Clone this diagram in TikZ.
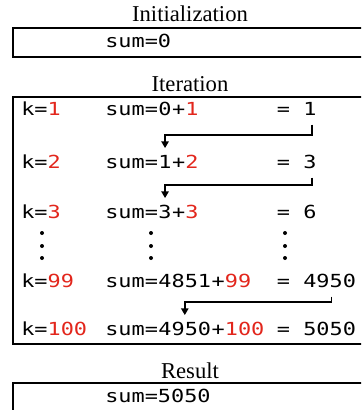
\documentclass[tikz,border=0pt]{standalone}
\usepackage{fontspec}
\setmainfont{Liberation Serif}
\setmonofont{DejaVu Sans Mono}[FakeStretch=1.215]
\usetikzlibrary{arrows.meta}
\definecolor{termred}{RGB}{226,38,28}
\newcommand{\hl}[1]{\textcolor{termred}{#1}}

\begin{document}
\begin{tikzpicture}[x=0.75pt,y=-0.75pt,
	frame/.style={draw, line width=1.5pt},
	title/.style={font=\fontsize{17}{20}\selectfont, anchor=base, inner sep=0pt},
	code/.style={font=\ttfamily\fontsize{13.5}{16}\selectfont, anchor=base west, inner xsep=0pt, inner ysep=5pt, text height=9.75pt, text depth=2pt},
	flow/.style={line width=1.1pt, -{Triangle[width=5.5pt,length=5pt]}}]
	\useasboundingbox (0,0) rectangle (361,410);
	\clip (0,0) rectangle (361,410);
	
	% frames
	\draw[frame] (13,28) rectangle (367,57);
	\draw[frame] (13,97) rectangle (367,344);
	\draw[frame] (13,383) rectangle (367,414);
	
	\node[title] (tinit) at (190,22) {Initialization};
	\node[title] (titer) at (190,91) {Iteration};
	\node[title] (tres) at (190,378) {Result};
	
	\node[code] (init) at (105,48) {sum=0};
	
	% k=1
	\node[code] (k1) at (21,115) {k=\hl{1}};
	\node[code] (s1) at (105,115) {sum=};
	\node[code] (a1) at (s1.base east) {0};
	\node[code] (b1) at (a1.base east) {+\hl{1}};
	\node[code] (e1) at (276.6,115) {=};
	\node[code] (r1) at (303,115) {1};
	% k=2
	\node[code] (k2) at (21,168) {k=\hl{2}};
	\node[code] (s2) at (105,168) {sum=};
	\node[code] (a2) at (s2.base east) {1};
	\node[code] (b2) at (a2.base east) {+\hl{2}};
	\node[code] (e2) at (276.6,168) {=};
	\node[code] (r2) at (303,168) {3};
	% k=3
	\node[code] (k3) at (21,218) {k=\hl{3}};
	\node[code] (s3) at (105,218) {sum=};
	\node[code] (a3) at (s3.base east) {3};
	\node[code] (b3) at (a3.base east) {+\hl{3}};
	\node[code] (e3) at (276.6,218) {=};
	\node[code] (r3) at (303,218) {6};
	% k=99
	\node[code] (k99) at (21,287) {k=\hl{99}};
	\node[code] (s99) at (105,287) {sum=};
	\node[code] (a99) at (s99.base east) {4851};
	\node[code] (b99) at (a99.base east) {+\hl{99}};
	\node[code] (e99) at (276.6,287) {=};
	\node[code] (r99) at (303,287) {4950};
	% k=100
	\node[code] (k100) at (21,335) {k=\hl{100}};
	\node[code] (s100) at (105,335) {sum=};
	\node[code] (a100) at (s100.base east) {4950};
	\node[code] (b100) at (a100.base east) {+\hl{100}};
	\node[code] (e100) at (276.6,335) {=};
	\node[code] (r100) at (303,335) {5050};
	
	\node[code] (result) at (105,402) {sum=5050};
	
	% vertical dots
	\fill (42,233) circle[radius=1.5pt] (42,246) circle[radius=1.5pt] (42,258) circle[radius=1.5pt];
	\fill (151,233) circle[radius=1.5pt] (151,246) circle[radius=1.5pt] (151,258) circle[radius=1.5pt];
	\fill (285,233) circle[radius=1.5pt] (285,246) circle[radius=1.5pt] (285,258) circle[radius=1.5pt];
	
	\draw[flow] ([xshift=1.5pt]r1.south) |- ([yshift=9.75pt]a2.north) -- (a2.north);
	\draw[flow] ([xshift=1.5pt]r2.south) |- ([yshift=9.75pt]a3.north) -- (a3.north);
	\draw[flow] ([xshift=1.5pt]r99.south) |- ([yshift=9.75pt]a100.north) -- (a100.north);
\end{tikzpicture}
\end{document}
